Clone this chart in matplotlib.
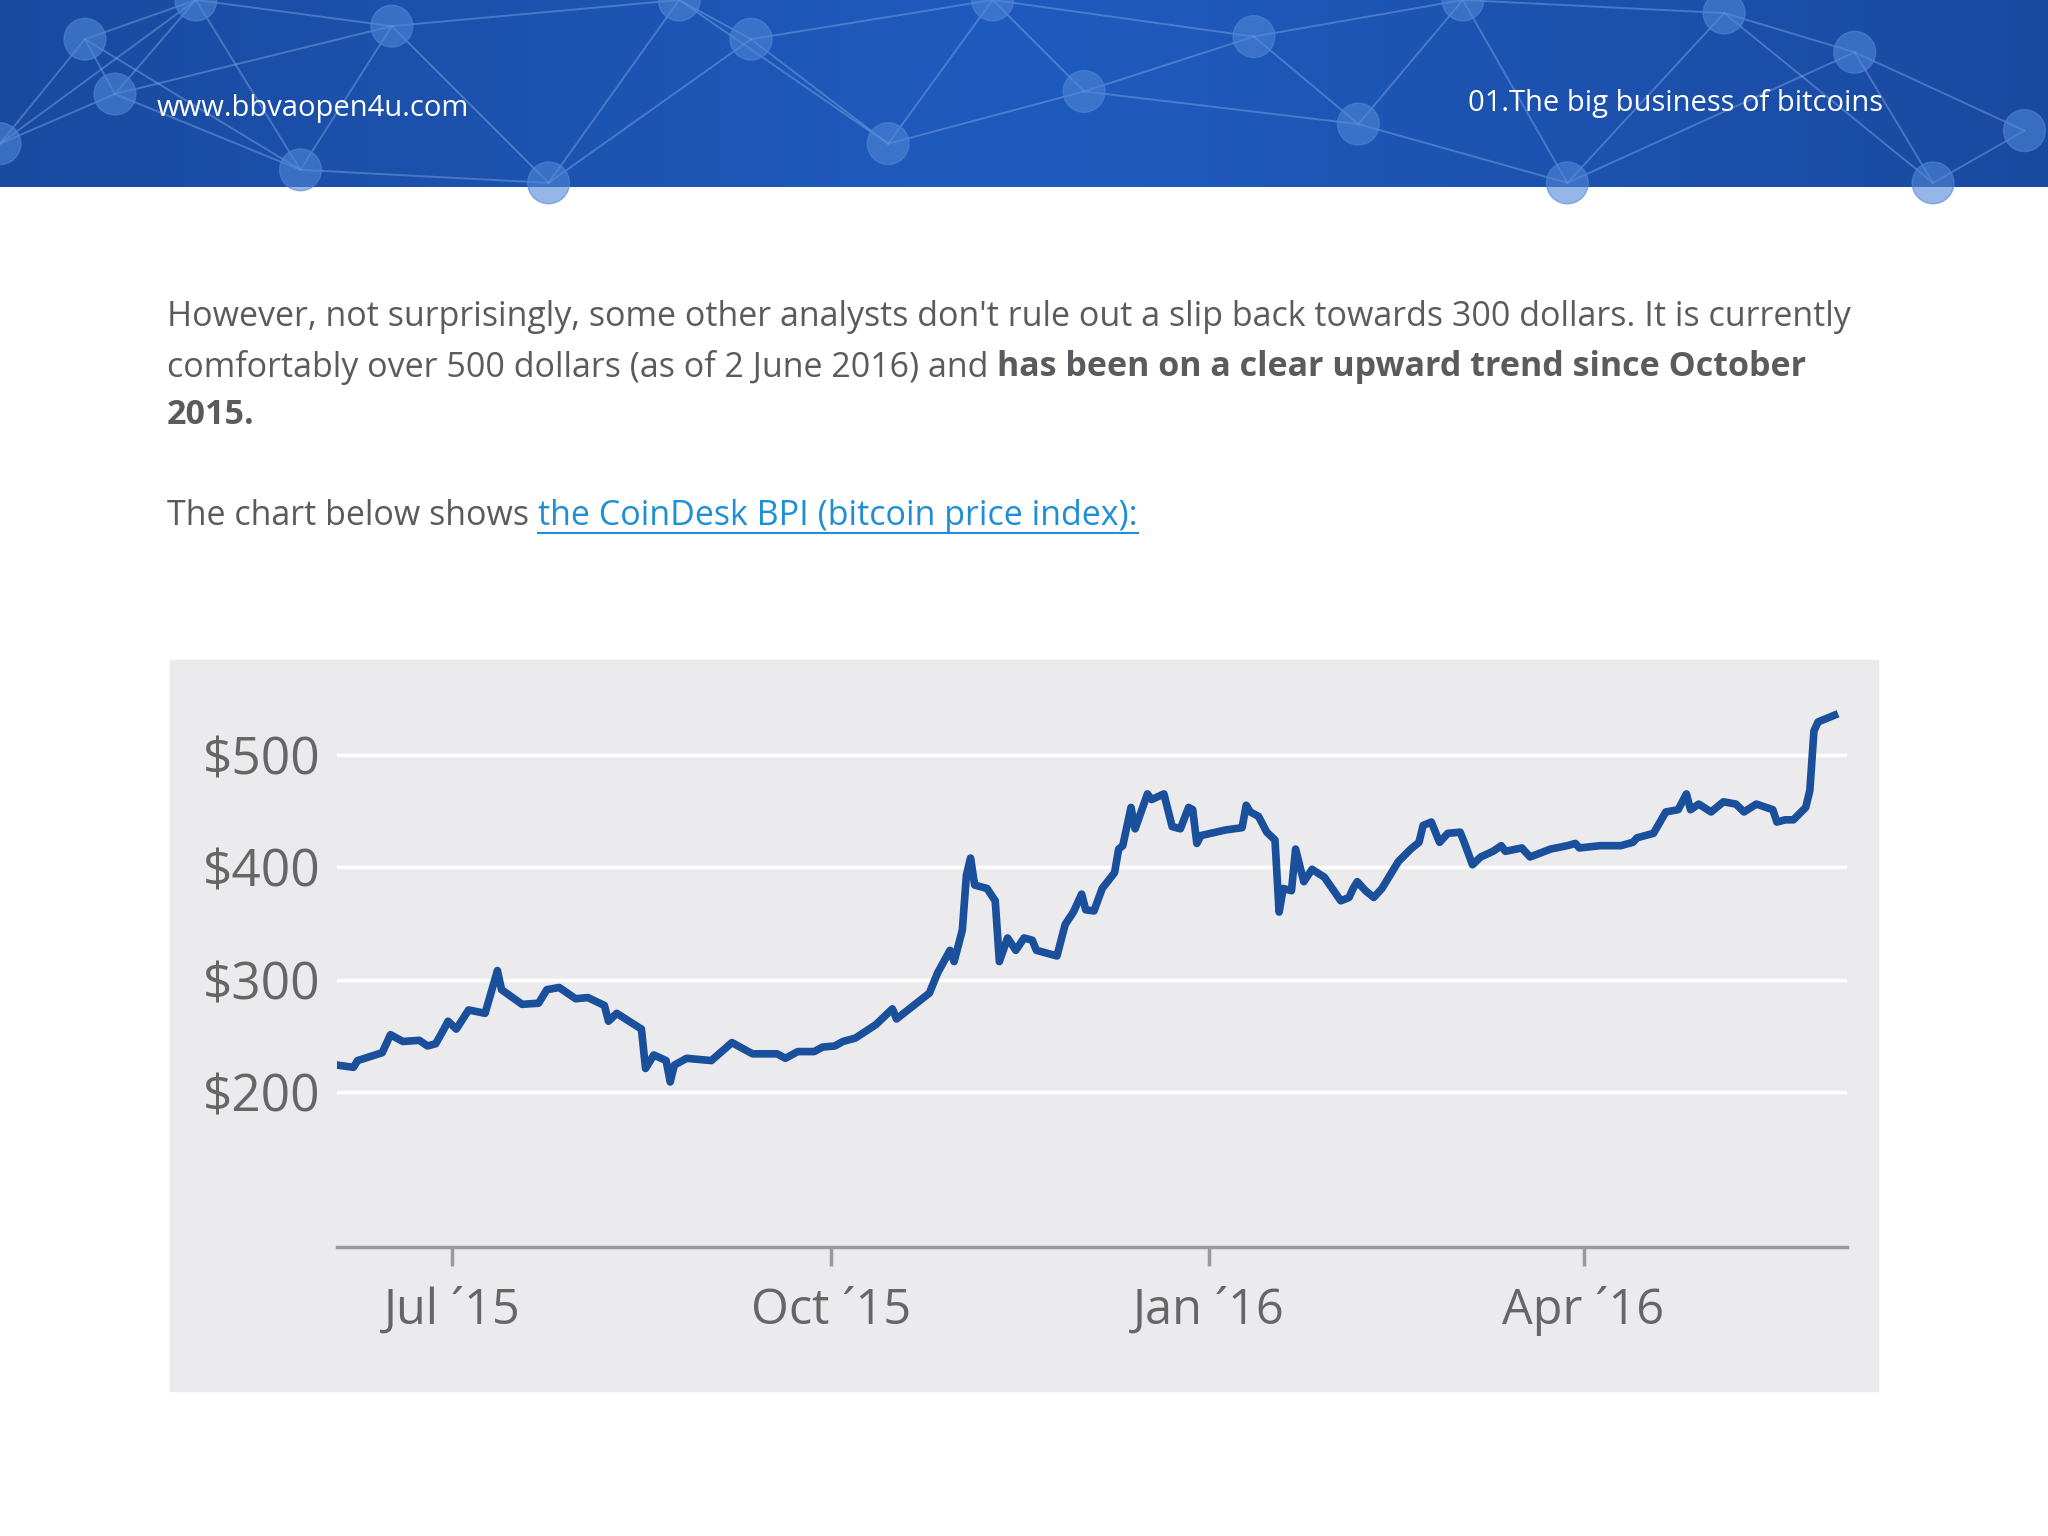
import matplotlib
matplotlib.use("Agg")
import matplotlib.pyplot as plt
from matplotlib.patches import Rectangle
import numpy as np

# days since 2015-06-01
days = [2,6,7,13,15,18,22,24,26,28,29,31,34,38,41,42,47,51,53,56,60,63,67,68,70,76,77,79,82,83,84,87,93,98,100,103,109,111,114,118,120,
        123,125,128,133,137,138,146,148,151,152,154,155,156,157,160,162,163,165,167,169,171,172,177,179,181,183,184,186,188,191,192,193,195,196,199,200,203,205,207,209,210,211,212,
        218,222,223,224,226,228,230,231,232,234,235,237,239,242,246,248,249,250,252,254,256,260,263,265,266,268,270,272,275,276,278,280,283,285,286,290,292,297,301,303,304,309,314,317,318,320,322,325,328,330,331,333,336,339,342,344,347,351,352,354,356,359,360,361,362,366]
price = [224,222,228,235,251,245,246,241,243,256,263,256,273,270,308,291,278,279,291,293,283,284,277,263,270,256,221,233,228,209,224,230,228,244,240,234,234,230,236,236,240,
         241,245,248,260,274,265,288,306,326,316,344,393,408,384,381,370,316,337,326,337,335,326,321,349,360,376,362,361,381,395,416,419,453,434,465,460,465,436,434,453,451,421,428,
         433,435,455,449,445,431,424,360,381,379,416,387,398,391,370,373,381,387,379,373,381,405,416,422,437,440,422,430,431,422,402,409,414,419,414,417,409,416,419,421,417,419,419,422,426,428,430,449,451,465,451,456,449,458,456,449,456,451,440,442,442,453,468,521,529,535]
yticks = [200, 300, 400, 500]
ytick_labels = ["$200", "$300", "$400", "$500"]
xticks = [30, 122, 214, 305]
xtick_labels = ["Jul \u00b415", "Oct \u00b415", "Jan \u00b416", "Apr \u00b416"]

W, H = 1568, 1176
fig = plt.figure(figsize=(20.48, 15.36), dpi=100)
fig.patch.set_facecolor("white")
bg = fig.add_axes([0, 0, 1, 1]); bg.set_xlim(0, W); bg.set_ylim(H, 0); bg.axis("off")

# header
grad = np.linspace(0, 1, 256).reshape(1, -1)
bg.imshow(grad, extent=[0, W, 143, 0], aspect="auto",
          cmap=matplotlib.colors.LinearSegmentedColormap.from_list("b", ["#1a4aa0", "#1f5bbf", "#1a4aa0"]), zorder=1)
nodes = [(65, 30), (88, 72), (0, 110), (150, 0), (300, 20), (420, 140), (575, 30), (520, 0), (680, 110), (760, 0), (830, 70),
         (960, 28), (1040, 95), (1120, 0), (1200, 140), (1320, 10), (1420, 40), (1550, 100), (230, 130), (1480, 140)]
for i in range(len(nodes)):
    for j in range(i + 1, len(nodes)):
        if abs(nodes[i][0] - nodes[j][0]) < 230:
            bg.plot([nodes[i][0], nodes[j][0]], [nodes[i][1], nodes[j][1]], color="#7fa8e6", lw=1.4, alpha=0.45, zorder=2)
for (x, y) in nodes:
    bg.add_patch(matplotlib.patches.Circle((x, y), 16, color="#4f86d6", alpha=0.6, zorder=3))
bg.text(120, 83, "www.bbvaopen4u.com", color="white", fontsize=21, va="center", family="Open Sans", zorder=5)
bg.text(1442, 79, "01.The big business of bitcoins", color="white", fontsize=21, va="center", ha="right", family="Open Sans", zorder=5)

tc = "#5a5a5f"
fs = 24.5
renderer = fig.canvas.get_renderer()

def chain(x, y, parts):
    for txt, kw in parts:
        t = bg.text(x, y, txt, color=kw.get("color", tc), fontsize=fs, va="center", family="Open Sans",
                    weight=kw.get("weight", "normal"))
        bb = t.get_window_extent(renderer).transformed(bg.transData.inverted())
        x0, x1 = bb.x0, bb.x1
        if kw.get("underline"):
            bg.plot([x0, x1], [y + 13, y + 13], color=kw["color"], lw=1.5)
        x = x1

chain(128, 243, [("However, not surprisingly, some other analysts don't rule out a slip back towards 300 dollars. It is currently", {})])
chain(128, 281, [("comfortably over 500 dollars (as of 2 June 2016) and ", {}),
                 ("has been on a clear upward trend since October", {"weight": "bold"})])
chain(128, 318, [("2015.", {"weight": "bold"})])
chain(128, 395, [("The chart below shows ", {}),
                 ("the CoinDesk BPI (bitcoin price index):", {"color": "#1f8ed6", "underline": True})])

bg.add_patch(Rectangle((130, 505), 1308, 560, color="#ebeaec", zorder=1))

ax = fig.add_axes([258 / W, 1 - 955 / H, (1414 - 258) / W, (955 - 520) / H])
ax.set_facecolor("none")
ax.set_xlim(2, 369)
ax.set_ylim(62, 567)
for s in ["top", "right", "left"]:
    ax.spines[s].set_visible(False)
ax.spines["bottom"].set_color("#9a9a9e"); ax.spines["bottom"].set_linewidth(2.5)
for v in yticks:
    ax.axhline(v, color="white", lw=2.5, zorder=1)
ax.plot(days, price, color="#1a4f9c", lw=5.5, zorder=3, solid_joinstyle="round")
ax.set_yticks(yticks)
ax.set_yticklabels(ytick_labels, fontsize=37, color="#666", family="Open Sans")
ax.tick_params(axis="y", length=0, pad=12)
ax.set_xticks(xticks)
ax.set_xticklabels(xtick_labels, fontsize=35, color="#666", family="Open Sans")
ax.tick_params(axis="x", length=14, width=2.5, color="#9a9a9e", pad=14)

fig.savefig("out.png", dpi=100)
